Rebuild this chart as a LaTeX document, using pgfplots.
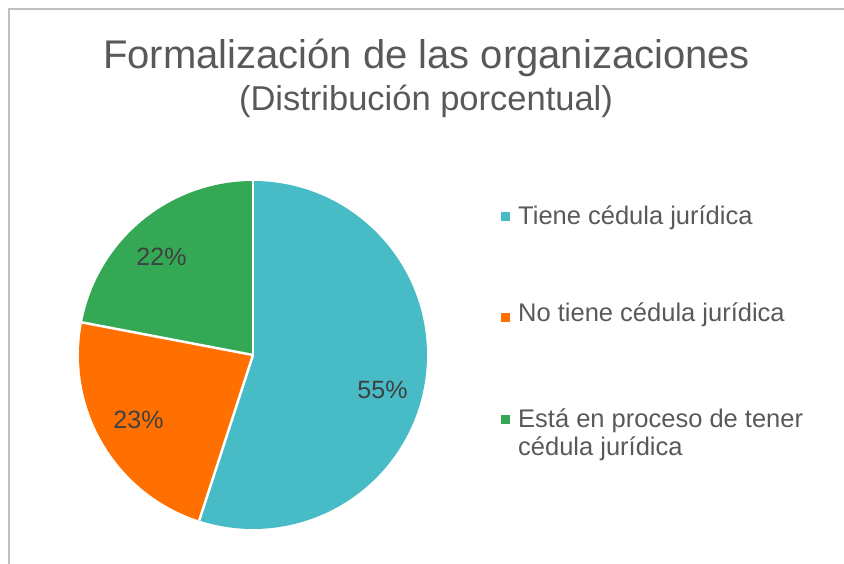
\documentclass[border=0pt]{standalone}
\usepackage{pgfplots}
\usepackage{pgfplotstable}
\pgfplotsset{compat=1.18}
\usepackage{fontspec}
\setmainfont{Liberation Sans}
\definecolor{cteal}{RGB}{71,188,198}
\definecolor{corange}{RGB}{255,112,0}
\definecolor{cgreen}{RGB}{52,168,84}
\definecolor{ctitle}{RGB}{89,89,89}
\definecolor{clabel}{RGB}{64,64,64}
\definecolor{cframe}{RGB}{191,191,191}

\pgfplotstableread{
value lx ly
55 382.5 398
23 138.5 428
22 161.5 265
}\piedata

\begin{document}
\begin{tikzpicture}
\pgfplotstablegetelem{0}{value}\of\piedata \edef\va{\pgfplotsretval}
\pgfplotstablegetelem{1}{value}\of\piedata \edef\vb{\pgfplotsretval}
\pgfplotstablegetelem{2}{value}\of\piedata \edef\vc{\pgfplotsretval}
\pgfmathsetmacro{\aA}{90}
\pgfmathsetmacro{\aB}{\aA-3.6*\va}
\pgfmathsetmacro{\aC}{\aB-3.6*\vb}
\pgfmathsetmacro{\aD}{\aC-3.6*\vc}
\pgfplotstablegetelem{0}{lx}\of\piedata \edef\lxa{\pgfplotsretval}
\pgfplotstablegetelem{0}{ly}\of\piedata \edef\lya{\pgfplotsretval}
\pgfplotstablegetelem{1}{lx}\of\piedata \edef\lxb{\pgfplotsretval}
\pgfplotstablegetelem{1}{ly}\of\piedata \edef\lyb{\pgfplotsretval}
\pgfplotstablegetelem{2}{lx}\of\piedata \edef\lxc{\pgfplotsretval}
\pgfplotstablegetelem{2}{ly}\of\piedata \edef\lyc{\pgfplotsretval}
\def\R{174pt}
\begin{axis}[
  scale only axis, width=844pt, height=563pt,
  xmin=0, xmax=844, ymin=0, ymax=563, y dir=reverse,
  hide axis, clip=false,
]
\coordinate (bl) at (axis cs:0,563);
\coordinate (tr) at (axis cs:844,0);
\coordinate (C) at (axis cs:253,355);
% frame
\draw[cframe, line width=2pt] (axis cs:9,570) -- (axis cs:9,9) -- (axis cs:860,9);
% slices
\fill[cteal] (C) -- ++(\aA:\R) arc[start angle=\aA, end angle=\aB, radius=\R] -- cycle;
\fill[corange] (C) -- ++(\aB:\R) arc[start angle=\aB, end angle=\aC, radius=\R] -- cycle;
\fill[cgreen] (C) -- ++(\aC:\R) arc[start angle=\aC, end angle=\aD, radius=\R] -- cycle;
\draw[white, line width=2.5pt] (C) -- ++(\aA:\R);
\draw[white, line width=2.5pt] (C) -- ++(\aB:\R);
\draw[white, line width=2.5pt] (C) -- ++(\aC:\R);
% data labels
\node[anchor=base, text=clabel, font=\fontsize{25}{30}\selectfont, inner sep=0pt] at (axis cs:\lxa,\lya) {\va\%};
\node[anchor=base, text=clabel, font=\fontsize{25}{30}\selectfont, inner sep=0pt] at (axis cs:\lxb,\lyb) {\vb\%};
\node[anchor=base, text=clabel, font=\fontsize{25}{30}\selectfont, inner sep=0pt] at (axis cs:\lxc,\lyc) {\vc\%};
% titles
\node[anchor=base, text=ctitle, font=\fontsize{40}{46}\selectfont, inner sep=0pt] at (axis cs:426.5,68) {Formalización de las organizaciones};
\node[anchor=base, text=ctitle, font=\fontsize{34.5}{40}\selectfont, inner sep=0pt] at (axis cs:426,110) {(Distribución porcentual)};
% legend
\fill[cteal] (axis cs:500.5,212) rectangle (axis cs:509.5,221);
\fill[corange] (axis cs:500.5,313) rectangle (axis cs:509.5,322);
\fill[cgreen] (axis cs:500.5,415) rectangle (axis cs:509.5,424);
\node[anchor=base west, text=ctitle, font=\fontsize{25.5}{30}\selectfont, inner sep=0pt] at (axis cs:518,224) {Tiene cédula jurídica};
\node[anchor=base west, text=ctitle, font=\fontsize{25.5}{30}\selectfont, inner sep=0pt] at (axis cs:518,321) {No tiene cédula jurídica};
\node[anchor=base west, text=ctitle, font=\fontsize{25.5}{30}\selectfont, inner sep=0pt] at (axis cs:518,427) {Está en proceso de tener};
\node[anchor=base west, text=ctitle, font=\fontsize{25.5}{30}\selectfont, inner sep=0pt] at (axis cs:518,455) {cédula jurídica};
\end{axis}
\pgfresetboundingbox
\path[use as bounding box] (bl) rectangle (tr);
\end{tikzpicture}
\end{document}
